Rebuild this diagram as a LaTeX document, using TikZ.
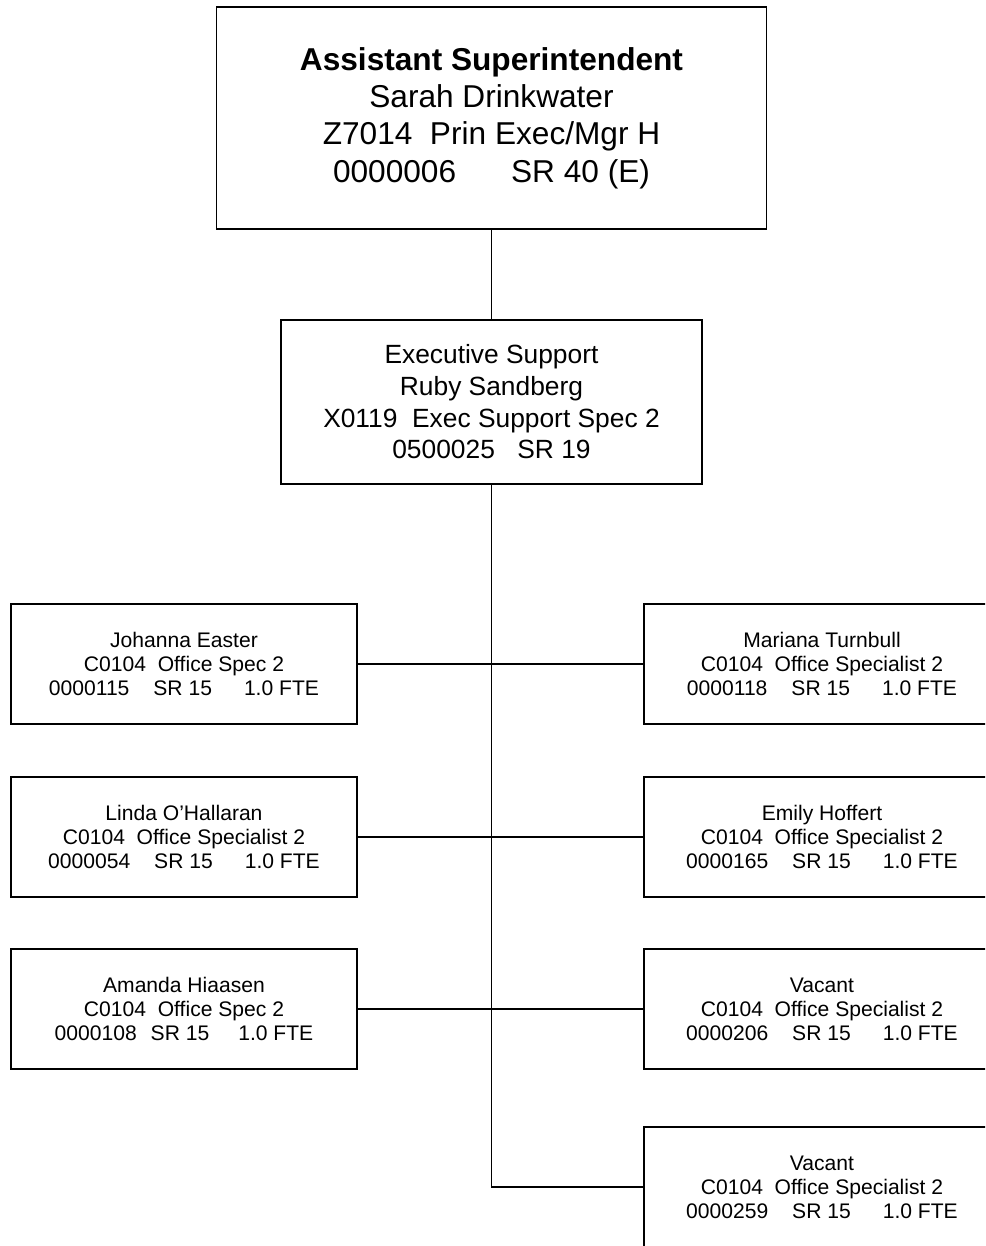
\documentclass[tikz,border=0pt]{standalone}
\usepackage{fontspec}
\setmainfont{Liberation Sans}
\usepackage{tikz}

\tikzset{
  head/.style={draw, line width=0.8pt, align=center, minimum width=11cm, minimum height=4.44cm, font=\fontsize{18}{21.3}\selectfont},
  support/.style={draw, line width=0.8pt, align=center, minimum width=8.42cm, minimum height=3.28cm, font=\fontsize{15}{18}\selectfont},
  staff/.style={draw, line width=0.8pt, align=center, minimum width=6.92cm, minimum height=2.4cm, font=\fontsize{12}{13.6}\selectfont},
  staffr/.style={staff, minimum width=7.12cm},
  link/.style={line width=0.6pt}
}

\begin{document}
\begin{tikzpicture}[x=0.02cm, y=-0.02cm]
\useasboundingbox (0,0) rectangle (985,1246);
\clip (0,0) rectangle (985,1246);

\node[head] (asst) at (491.5,118) {\textbf{Assistant Superintendent}\\Sarah Drinkwater\\Z7014\ \ Prin Exec/Mgr H\\0000006\hspace{1.1cm}SR 40 (E)};
\node[support] (execsup) at (491.5,402) {Executive Support\\Ruby Sandberg\\X0119\ \ Exec Support Spec 2\\0500025\hspace{0.45cm}SR 19};

\node[staff] (easter) at (184,664) {Johanna Easter\\C0104\ \ Office Spec 2\\0000115\hspace{0.48cm}SR 15\hspace{0.64cm}1.0 FTE};
\node[staff] (ohallaran) at (184,837) {Linda O'Hallaran\\C0104\ \ Office Specialist 2\\0000054\hspace{0.48cm}SR 15\hspace{0.64cm}1.0 FTE};
\node[staff] (hiaasen) at (184,1009) {Amanda Hiaasen\\C0104\ \ Office Spec 2\\0000108\hspace{0.28cm}SR 15\hspace{0.58cm}1.0 FTE};

\node[staffr] (turnbull) at (822,664) {Mariana Turnbull\\C0104\ \ Office Specialist 2\\0000118\hspace{0.48cm}SR 15\hspace{0.64cm}1.0 FTE};
\node[staffr] (hoffert) at (822,837) {Emily Hoffert\\C0104\ \ Office Specialist 2\\0000165\hspace{0.48cm}SR 15\hspace{0.64cm}1.0 FTE};
\node[staffr] (vacanta) at (822,1009) {Vacant\\C0104\ \ Office Specialist 2\\0000206\hspace{0.48cm}SR 15\hspace{0.64cm}1.0 FTE};
\node[staffr] (vacantb) at (822,1187) {Vacant\\C0104\ \ Office Specialist 2\\0000259\hspace{0.48cm}SR 15\hspace{0.64cm}1.0 FTE};

\draw[link] (asst) -- (execsup);
\draw[link] (execsup) -- (execsup |- vacantb.west) -- (vacantb.west);
\draw[link] (easter) -- (turnbull);
\draw[link] (ohallaran) -- (hoffert);
\draw[link] (hiaasen) -- (vacanta);
\end{tikzpicture}
\end{document}
